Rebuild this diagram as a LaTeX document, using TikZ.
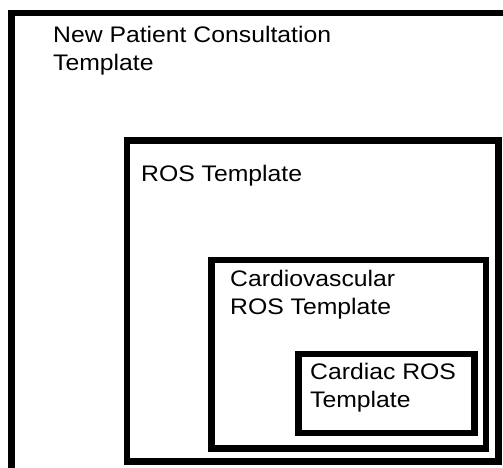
\documentclass[tikz,border=0pt]{standalone}
\usepackage{fontspec}
\setmainfont[FakeStretch=1.1]{Liberation Sans}
\usetikzlibrary{positioning}

\tikzset{
  frame/.style={line width=6.5pt},
  caption/.style={anchor=north west, inner sep=0pt, align=left,
    font=\fontsize{22.5}{28.5}\selectfont}
}

\begin{document}
\begin{tikzpicture}[x=1pt, y=-1pt]
			%%%%% START %%%%%
			\useasboundingbox (0, 0) rectangle (503, 467);
			\clip (0, 0) rectangle (503, 467);
			
			% outer template, runs off the page
			\draw[frame] (11.5, 13) rectangle (520, 490);
			\node[caption] (newpatient) at (53, 25.5) {New Patient Consultation\\Template};
			
			\draw[frame] (127, 140.5) rectangle (498.5, 461.5);
			\node[caption] (ros) at (141, 164.5) {ROS Template};
			
			\draw[frame] (211.5, 260) rectangle (486, 448.5);
			\node[caption] (cardiovascular) at (230, 269.5) {Cardiovascular\\ROS Template};
			
			\draw[frame] (298.5, 354) rectangle (474.5, 433);
			\node[caption] (cardiac) at (310, 362.5) {Cardiac ROS\\Template};
			
			%%%%% END %%%%%
\end{tikzpicture}
\end{document}
